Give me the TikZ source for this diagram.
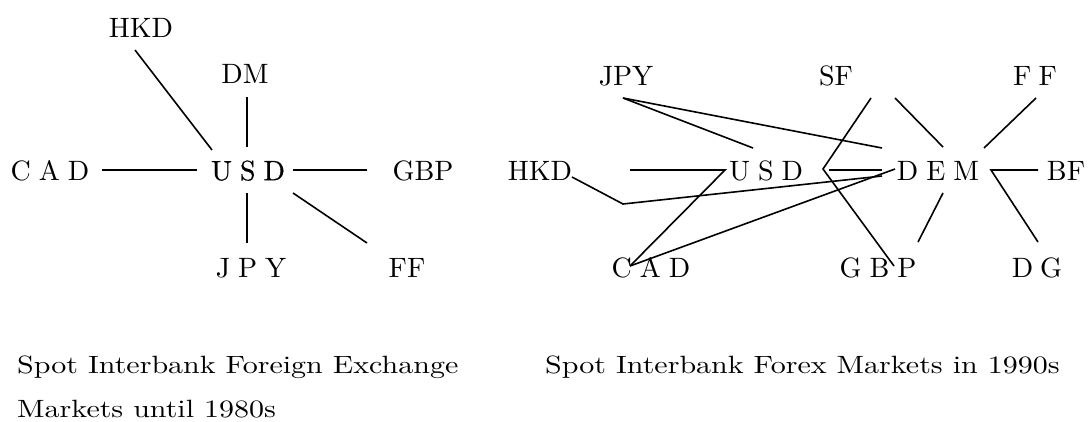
\documentclass[tikz,border=0pt]{standalone}
\usepackage{fontspec}
\usepackage{graphicx}
\usetikzlibrary{calc}
% one design size of Latin Modern at every size
\setmainfont{lmroman10-regular.otf}
\newfontfamily\hubfont{lmroman10-regular.otf}[FakeBold=0.6]
% spacing between the letters of spaced-out currency codes
\newcommand{\lgap}{\hspace{8pt}}
\newcommand{\wide}[1]{\scalebox{1.2}[1]{#1}}
\begin{document}
\begin{tikzpicture}[x=1pt,y=-1pt,
  cur/.style={inner sep=0pt, text height=19.4pt, text depth=0pt,
              font=\fontsize{28}{30}\selectfont},
  link/.style={line width=1.6pt, line join=miter},
  caption/.style={inner sep=0pt, anchor=base west,
              font=\fontsize{25}{30}\selectfont}]
\useasboundingbox (0,0) rectangle (1089,421);

% ---- market structure until the 1980s: USD hub ----
\node[cur] (hkdA) at (141,27.5)  {HKD};
\node[cur] (dmA)  at (245,73.5)  {DM};
\node[cur] (cadA) at (50,170.5)  {C\lgap A\lgap D};
\node[cur] (usdA) at (248,170.5) {\hubfont U\lgap S\lgap D};
\node[cur] (gbpA) at (423,170.5) {GBP};
\node[cur] (jpyA) at (251,267.5) {J\lgap P\lgap Y};
\node[cur] (ffA)  at (407,267.5) {FF};

\draw[link] ($(hkdA)+(-6,22.5)$) -- ($(usdA)+(-36,-20.5)$);
\draw[link] ($(dmA)+(2,23.5)$)   -- ($(usdA)+(-1,-23.5)$);
\draw[link] ($(cadA)+(52,-0.5)$) -- ($(usdA)+(-51,-0.5)$);
\draw[link] ($(usdA)+(45,-0.5)$) -- ($(gbpA)+(-56,-0.5)$);
\draw[link] ($(usdA)+(-1,22.5)$) -- ($(jpyA)+(-4,-24.5)$);
\draw[link] ($(usdA)+(45,22.5)$) -- ($(ffA)+(-40,-24.5)$);

% ---- market structure in the 1990s: USD and DEM hubs ----
\node[cur] (jpyB) at (626,75.5)   {JPY};
\node[cur] (sfB)  at (836,75.5)   {SF};
\node[cur] (ffB)  at (1035,75.5)  {F\hspace{7pt}F};
\node[cur] (hkdB) at (540,170.5)  {HKD};
\node[cur] (usdB) at (766,170.5)  {U\lgap S\lgap D};
\node[cur] (demB) at (938,170.5)  {D\lgap E\lgap M};
\node[cur] (bfB)  at (1066,170.5) {BF};
\node[cur] (cadB) at (651,267.5)  {C\lgap A\lgap D};
\node[cur] (gbpB) at (878,267.5)  {G\lgap B\lgap P};
\node[cur] (dgB)  at (1037,267.5) {D\hspace{7pt}G};

\draw[link] ($(jpyB)+(-3,22.5)$) -- ($(usdB)+(-13,-22.5)$);
\draw[link] ($(jpyB)+(-3,22.5)$) -- ($(demB)+(-56,-22.5)$);
\draw[link] ($(hkdB)+(90,-0.5)$) -- ($(usdB)+(-41,-0.5)$) -- ($(cadB)+(-21,-1.5)$);
\draw[link] ($(cadB)+(-21,-1.5)$) -- ($(demB)+(-43,-1.5)$);
\draw[link] ($(hkdB)+(32,6.5)$) -- ++(51,27) -- ($(demB)+(-56,5.5)$);
\draw[link] ($(sfB)+(35,22.5)$) -- ($(usdB)+(57,-1.5)$) -- ($(gbpB)+(16,-1.5)$);
\draw[link] ($(usdB)+(63,-0.5)$) -- ($(demB)+(-56,-0.5)$);
\draw[link] ($(sfB)+(59,22.5)$) -- ($(demB)+(5,-23.5)$);
\draw[link] ($(ffB)+(1,22.5)$) -- ($(demB)+(46,-22.5)$);
\draw[link] ($(bfB)+(-28,-0.5)$) -- ($(demB)+(53,-0.5)$) -- ($(dgB)+(1,-25.5)$);
\draw[link] ($(demB)+(5,22.5)$) -- ($(gbpB)+(40,-25.5)$);

% ---- captions ----
\node[caption] (capA)  at (17,373)  {\wide{Spot Interbank Foreign Exchange}};
\node[caption] (capA2) at (17,417)  {\wide{Markets until 1980s}};
\node[caption] (capB)  at (545,373) {\wide{Spot Interbank Forex Markets in 1990s}};
\end{tikzpicture}
\end{document}
